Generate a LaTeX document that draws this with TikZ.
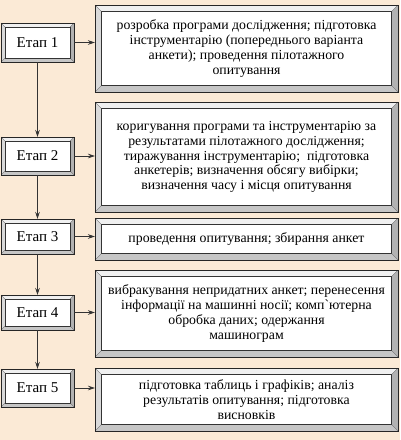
\documentclass[tikz,border=0pt]{standalone}
\usepackage{fontspec}
\setmainfont{Liberation Serif}[Ligatures=TeXOff]
\usetikzlibrary{calc,arrows.meta}
\definecolor{bg}{RGB}{251,234,214}
\tikzset{
  stagebox/.style={draw=black!85, line width=0.6pt, fill=white, minimum width=73pt,
    minimum height=#1, font=\fontsize{15}{16}\selectfont, inner sep=0pt, outer sep=0pt, anchor=north west},
  descbox/.style={draw=black!85, line width=0.6pt, fill=white, minimum width=303pt,
    minimum height=#1, align=center, font=\fontsize{13.8}{14.9}\selectfont, inner sep=0pt, outer sep=0pt, anchor=north west},
  link/.style={draw=black!80, line width=0.7pt, -{Stealth[length=7pt,width=4.5pt]}},
  bvtop/.style={fill=gray!12},
  bvleft/.style={fill=gray!30},
  bvright/.style={fill=gray!60},
  bvbot/.style={fill=gray!45},
}
\newcommand\bevelframe[2]{%
  \fill[bvtop] (#1.north west) -- (#1.north east) -- ($(#1.north east)+(-#2pt,-#2pt)$) -- ($(#1.north west)+(#2pt,-#2pt)$) -- cycle;
  \fill[bvleft] (#1.north west) -- ($(#1.north west)+(#2pt,-#2pt)$) -- ($(#1.south west)+(#2pt,#2pt)$) -- (#1.south west) -- cycle;
  \fill[bvright] (#1.north east) -- (#1.south east) -- ($(#1.south east)+(-#2pt,#2pt)$) -- ($(#1.north east)+(-#2pt,-#2pt)$) -- cycle;
  \fill[bvbot] (#1.south west) -- (#1.south east) -- ($(#1.south east)+(-#2pt,#2pt)$) -- ($(#1.south west)+(#2pt,#2pt)$) -- cycle;
  \draw[black!80, line width=0.4pt] ($(#1.north west)+(#2pt,-#2pt)$) rectangle ($(#1.south east)+(-#2pt,#2pt)$);
  \draw[black!70, line width=0.3pt] (#1.north west) -- ($(#1.north west)+(#2pt,-#2pt)$)
    (#1.north east) -- ($(#1.north east)+(-#2pt,-#2pt)$)
    (#1.south west) -- ($(#1.south west)+(#2pt,#2pt)$)
    (#1.south east) -- ($(#1.south east)+(-#2pt,#2pt)$);
  \draw[black!85, line width=0.7pt] (#1.north west) rectangle (#1.south east);
}
\begin{document}
\begin{tikzpicture}[x=1pt,y=-1pt]
\useasboundingbox (0,0) rectangle (400,440);
\fill[bg] (0,0) rectangle (400,440);

\node[stagebox=39pt] (e1) at (1,23) {Етап 1};
\node[stagebox=38pt] (e2) at (1,137) {Етап 2};
\node[stagebox=35pt] (e3) at (1,219) {Етап 3};
\node[stagebox=35pt] (e4) at (1,295) {Етап 4};
\node[stagebox=38pt] (e5) at (1,369) {Етап 5};

\node[descbox=87pt] (b1) at (95,5) {розробка програми дослідження; підготовка\\інструментарію (попереднього варіанта\\анкети); проведення пілотажного\\опитування};
\node[descbox=110pt] (b2) at (95,102) {коригування програми та інструментарію за\\результатами пілотажного дослідження;\\тиражування інструментарію;\ \ підготовка\\анкетерів; визначення обсягу вибірки;\\визначення часу і місця опитування};
\node[descbox=42pt] (b3) at (95,218) {проведення опитування; збирання анкет};
\node[descbox=87pt] (b4) at (95,270) {вибракування непридатних анкет; перенесення\\інформації на машинні носії; комп`ютерна\\обробка даних; одержання\\машинограм};
\node[descbox=63pt] (b5) at (95,368) {підготовка таблиць і графіків; аналіз\\результатів опитування; підготовка\\висновків};

\foreach \n in {e1,e2,e3,e4,e5} {\bevelframe{\n}{4}}
\foreach \n in {b1,b2,b3,b4,b5} {\bevelframe{\n}{6.5}}

\draw[link] (e1) -- (e2);
\draw[link] (e2) -- (e3);
\draw[link] (e3) -- (e4);
\draw[link] (e4) -- (e5);

\draw[link] (e1.east) -- (e1.east -| b1.west);
\draw[link] (e2.east) -- (e2.east -| b2.west);
\draw[link] (e3.east) -- (e3.east -| b3.west);
\draw[link] (e4.east) -- (e4.east -| b4.west);
\draw[link] (e5.east) -- (e5.east -| b5.west);
\end{tikzpicture}
\end{document}
